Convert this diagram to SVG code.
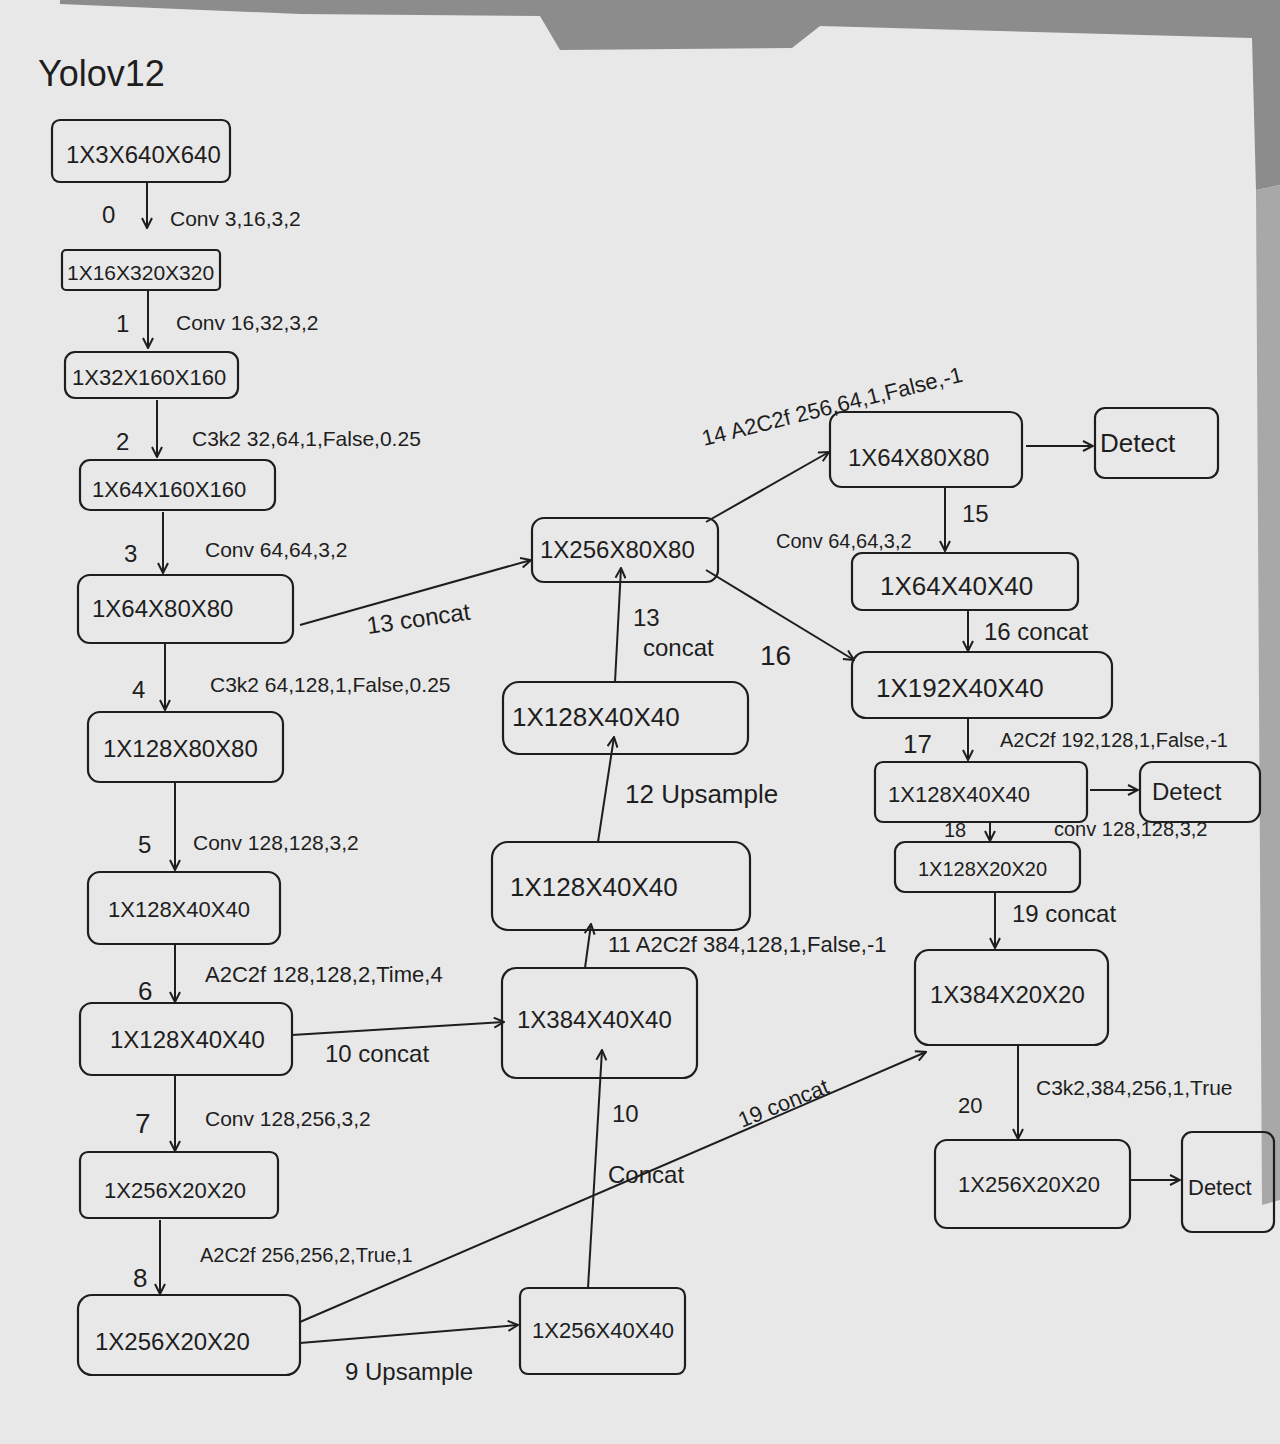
<svg xmlns="http://www.w3.org/2000/svg" width="1280" height="1444" viewBox="0 0 1280 1444">
  <defs>
    <marker id="ah" viewBox="0 0 12 12" refX="11" refY="6" markerWidth="12" markerHeight="12" markerUnits="userSpaceOnUse" orient="auto">
      <path d="M1,1 L11,6 L1,11" fill="none" stroke="#1e1e1e" stroke-width="2"/>
    </marker>
    <style>
      .box { fill: none; stroke: #1e1e1e; stroke-width: 2.2; }
      .nt { font-family: "Liberation Sans", Arial, sans-serif; fill: #1e1e1e; font-size: 24px; }
      .lb { font-family: "Liberation Sans", Arial, sans-serif; fill: #1e1e1e; font-size: 21px; }
      .cn { fill: none; stroke: #1e1e1e; stroke-width: 2; marker-end: url(#ah); }
    </style>
  </defs>

  <!-- paper and background -->
  <rect x="0" y="0" width="1280" height="1444" fill="#e8e8e8"/>
  <polygon points="60,0 1280,0 1280,185 1256,190 1252,38 820,26 792,48 560,50 540,16 300,14 60,4" fill="#8c8c8c"/>
  <polygon points="1256,190 1280,185 1280,1200 1262,1205" fill="#a8a8a8"/>

  <text x="38" y="86" class="nt" style="font-size:36px">Yolov12</text>

  <!-- connectors -->
  <g id="connectors">
    <path class="cn" d="M147,183 V228"/>
    <path class="cn" d="M148,290 V348"/>
    <path class="cn" d="M157,400 V457"/>
    <path class="cn" d="M163,512 V573"/>
    <path class="cn" d="M165,643 V710"/>
    <path class="cn" d="M175,783 V870"/>
    <path class="cn" d="M175,945 V1002"/>
    <path class="cn" d="M175,1075 V1151"/>
    <path class="cn" d="M160,1220 V1294"/>
    <path class="cn" d="M300,1343 L518,1325"/>
    <path class="cn" d="M300,1322 L926,1052"/>
    <path class="cn" d="M292,1035 L504,1022"/>
    <path class="cn" d="M588,1288 L602,1050"/>
    <path class="cn" d="M585,968 L591,924"/>
    <path class="cn" d="M598,842 L614,737"/>
    <path class="cn" d="M615,682 L621,568"/>
    <path class="cn" d="M300,625 L531,560"/>
    <path class="cn" d="M706,522 L829,452"/>
    <path class="cn" d="M1026,446 L1093,446"/>
    <path class="cn" d="M945,488 L945,551"/>
    <path class="cn" d="M968,610 L968,651"/>
    <path class="cn" d="M706,570 L854,660"/>
    <path class="cn" d="M968,718 L968,760"/>
    <path class="cn" d="M1090,790 L1138,790"/>
    <path class="cn" d="M990,822 L990,841"/>
    <path class="cn" d="M995,892 L995,948"/>
    <path class="cn" d="M1018,1045 L1018,1139"/>
    <path class="cn" d="M1130,1180 L1180,1180"/>
  </g>

  <!-- connector labels -->
  <g id="labels">
    <text class="lb" x="102" y="223" style="font-size:24px">0</text>
    <text class="lb" x="170" y="226">Conv 3,16,3,2</text>
    <text class="lb" x="116" y="332" style="font-size:24px">1</text>
    <text class="lb" x="176" y="330">Conv 16,32,3,2</text>
    <text class="lb" x="116" y="450" style="font-size:24px">2</text>
    <text class="lb" x="192" y="446">C3k2 32,64,1,False,0.25</text>
    <text class="lb" x="124" y="562" style="font-size:24px">3</text>
    <text class="lb" x="205" y="557">Conv 64,64,3,2</text>
    <text class="lb" x="132" y="698" style="font-size:24px">4</text>
    <text class="lb" x="210" y="692">C3k2 64,128,1,False,0.25</text>
    <text class="lb" x="138" y="853" style="font-size:24px">5</text>
    <text class="lb" x="193" y="850">Conv 128,128,3,2</text>
    <text class="lb" x="138" y="1000" style="font-size:26px">6</text>
    <text class="lb" x="205" y="982" style="font-size:22px">A2C2f 128,128,2,Time,4</text>
    <text class="lb" x="135" y="1133" style="font-size:28px">7</text>
    <text class="lb" x="205" y="1126">Conv 128,256,3,2</text>
    <text class="lb" x="133" y="1287" style="font-size:26px">8</text>
    <text class="lb" x="200" y="1262" style="font-size:20px">A2C2f 256,256,2,True,1</text>
    <text class="lb" x="345" y="1380" style="font-size:24px">9 Upsample</text>
    <text class="lb" x="325" y="1062" style="font-size:24px">10 concat</text>
    <text class="lb" x="368" y="634" style="font-size:24px" transform="rotate(-8 368 634)">13 concat</text>
    <text class="lb" x="612" y="1122" style="font-size:24px">10</text>
    <text class="lb" x="608" y="1183" style="font-size:24px">Concat</text>
    <text class="lb" x="742" y="1128" style="font-size:22px" transform="rotate(-22 742 1128)">19 concat</text>
    <text class="lb" x="608" y="952" style="font-size:22px">11 A2C2f 384,128,1,False,-1</text>
    <text class="lb" x="625" y="803" style="font-size:26px">12 Upsample</text>
    <text class="lb" x="633" y="626" style="font-size:24px">13</text>
    <text class="lb" x="643" y="656" style="font-size:24px">concat</text>
    <text class="lb" x="760" y="665" style="font-size:28px">16</text>
    <text class="lb" x="704" y="446" style="font-size:22px" transform="rotate(-14 704 446)">14 A2C2f 256,64,1,False,-1</text>
    <text class="lb" x="962" y="522" style="font-size:24px">15</text>
    <text class="lb" x="776" y="548" style="font-size:20px">Conv 64,64,3,2</text>
    <text class="lb" x="984" y="640" style="font-size:24px">16 concat</text>
    <text class="lb" x="903" y="753" style="font-size:26px">17</text>
    <text class="lb" x="1000" y="747" style="font-size:20px">A2C2f 192,128,1,False,-1</text>
    <text class="lb" x="944" y="837" style="font-size:20px">18</text>
    <text class="lb" x="1054" y="836" style="font-size:20px">conv 128,128,3,2</text>
    <text class="lb" x="1012" y="922" style="font-size:24px">19 concat</text>
    <text class="lb" x="958" y="1113" style="font-size:22px">20</text>
    <text class="lb" x="1036" y="1095" style="font-size:21px">C3k2,384,256,1,True</text>
  </g>

  <!-- nodes -->
  <g id="n_input"><rect class="box" x="52" y="120" width="178" height="62" rx="8"/><text class="nt" x="66" y="163">1X3X640X640</text></g>
  <g id="n0"><rect class="box" x="62" y="250" width="158" height="40" rx="4"/><text class="nt" x="67" y="280" style="font-size:21px">1X16X320X320</text></g>
  <g id="n1"><rect class="box" x="65" y="352" width="173" height="46" rx="10"/><text class="nt" x="72" y="385" style="font-size:22px">1X32X160X160</text></g>
  <g id="n2"><rect class="box" x="80" y="460" width="195" height="50" rx="10"/><text class="nt" x="92" y="497" style="font-size:22px">1X64X160X160</text></g>
  <g id="n3"><rect class="box" x="78" y="575" width="215" height="68" rx="12"/><text class="nt" x="92" y="617">1X64X80X80</text></g>
  <g id="n4"><rect class="box" x="88" y="712" width="195" height="70" rx="12"/><text class="nt" x="103" y="757">1X128X80X80</text></g>
  <g id="n5"><rect class="box" x="88" y="872" width="192" height="72" rx="12"/><text class="nt" x="108" y="917" style="font-size:22px">1X128X40X40</text></g>
  <g id="n6"><rect class="box" x="80" y="1003" width="212" height="72" rx="12"/><text class="nt" x="110" y="1048">1X128X40X40</text></g>
  <g id="n7"><rect class="box" x="80" y="1152" width="198" height="66" rx="8"/><text class="nt" x="104" y="1198" style="font-size:22px">1X256X20X20</text></g>
  <g id="n8"><rect class="box" x="78" y="1295" width="222" height="80" rx="14"/><text class="nt" x="95" y="1350">1X256X20X20</text></g>
  <g id="n9"><rect class="box" x="520" y="1288" width="165" height="86" rx="8"/><text class="nt" x="532" y="1338" style="font-size:22px">1X256X40X40</text></g>
  <g id="n10"><rect class="box" x="502" y="968" width="195" height="110" rx="14"/><text class="nt" x="517" y="1028">1X384X40X40</text></g>
  <g id="n11"><rect class="box" x="492" y="842" width="258" height="88" rx="16"/><text class="nt" x="510" y="896" style="font-size:26px">1X128X40X40</text></g>
  <g id="n12"><rect class="box" x="503" y="682" width="245" height="72" rx="16"/><text class="nt" x="512" y="726" style="font-size:26px">1X128X40X40</text></g>
  <g id="n13"><rect class="box" x="532" y="518" width="186" height="64" rx="12"/><text class="nt" x="540" y="558">1X256X80X80</text></g>
  <g id="n14"><rect class="box" x="830" y="412" width="192" height="75" rx="12"/><text class="nt" x="848" y="466">1X64X80X80</text></g>
  <g id="detect1"><rect class="box" x="1095" y="408" width="123" height="70" rx="10"/><text class="nt" x="1100" y="452" style="font-size:26px">Detect</text></g>
  <g id="n15"><rect class="box" x="852" y="553" width="226" height="57" rx="10"/><text class="nt" x="880" y="595" style="font-size:26px">1X64X40X40</text></g>
  <g id="n16"><rect class="box" x="852" y="652" width="260" height="66" rx="14"/><text class="nt" x="876" y="697" style="font-size:26px">1X192X40X40</text></g>
  <g id="n17"><rect class="box" x="875" y="762" width="212" height="60" rx="8"/><text class="nt" x="888" y="802" style="font-size:22px">1X128X40X40</text></g>
  <g id="detect2"><rect class="box" x="1140" y="762" width="120" height="60" rx="12"/><text class="nt" x="1152" y="800">Detect</text></g>
  <g id="n18"><rect class="box" x="895" y="842" width="185" height="50" rx="10"/><text class="nt" x="918" y="876" style="font-size:20px">1X128X20X20</text></g>
  <g id="n19"><rect class="box" x="915" y="950" width="193" height="95" rx="14"/><text class="nt" x="930" y="1003">1X384X20X20</text></g>
  <g id="n20"><rect class="box" x="935" y="1140" width="195" height="88" rx="12"/><text class="nt" x="958" y="1192" style="font-size:22px">1X256X20X20</text></g>
  <g id="detect3"><rect class="box" x="1182" y="1132" width="92" height="100" rx="10"/><text class="nt" x="1188" y="1195" style="font-size:22px">Detect</text></g>
</svg>
